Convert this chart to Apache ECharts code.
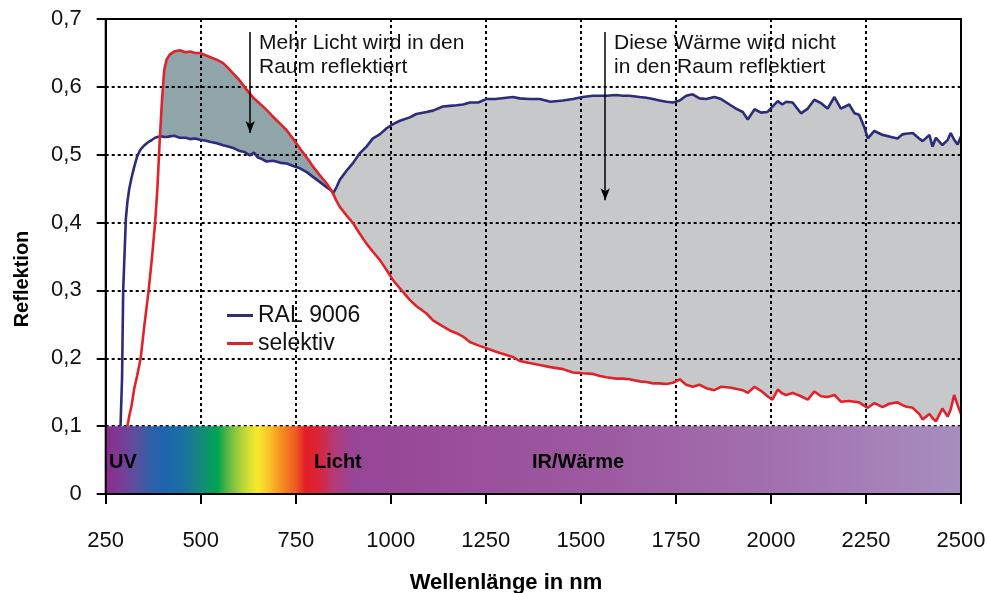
<!DOCTYPE html>
<html>
<head>
<meta charset="utf-8">
<title>Reflektion RAL 9006 / selektiv</title>
<script src="https://cdn.jsdelivr.net/npm/echarts@6/dist/echarts.min.js"></script>
<style>
  html, body { margin: 0; padding: 0; background: #fff; }
  #chart { width: 990px; height: 593px; }
</style>
</head>
<body>
<div id="chart"></div>
<script>
// Wellenlänge in nm (gemeinsames Raster für beide Kurven)
const wellenlaenge = [
  289, 293, 296, 300, 303, 307, 312, 318, 325, 333,
  342, 352, 363, 372, 380, 386, 392, 398, 404, 410,
  419, 430, 445, 460, 472, 485, 498, 511, 524, 542,
  559, 572, 585, 600, 615, 629, 640, 650, 660, 673,
  690, 710, 726, 745, 761, 780, 796, 813, 831, 844,
  848, 857, 866, 883, 901, 918, 936, 953, 971, 989,
  1006, 1024, 1050, 1067, 1094, 1111, 1137, 1155, 1173, 1190,
  1208, 1230, 1251, 1275, 1304, 1321, 1339, 1365, 1392, 1420,
  1453, 1479, 1505, 1532, 1550, 1567, 1593, 1610, 1628, 1655,
  1672, 1690, 1707, 1725, 1742, 1760, 1777, 1794, 1812, 1830,
  1851, 1869, 1891, 1908, 1926, 1939, 1957, 1974, 1991, 2004,
  2018, 2030, 2040, 2057, 2079, 2097, 2114, 2132, 2149, 2167,
  2184, 2206, 2220, 2232, 2246, 2255, 2272, 2294, 2311, 2333,
  2346, 2355, 2373, 2390, 2399, 2417, 2425, 2434, 2451, 2465,
  2473, 2482, 2491, 2500
];

// Reflektion RAL 9006
const ral9006 = [
  0.100, 0.170, 0.300, 0.360, 0.405, 0.430, 0.450, 0.466, 0.482, 0.498,
  0.508, 0.514, 0.519, 0.522, 0.525, 0.526, 0.527, 0.527, 0.526, 0.526,
  0.527, 0.528, 0.525, 0.525, 0.523, 0.524, 0.522, 0.521, 0.519, 0.517,
  0.514, 0.512, 0.510, 0.506, 0.504, 0.499, 0.503, 0.496, 0.494, 0.490,
  0.491, 0.488, 0.487, 0.483, 0.480, 0.474, 0.467, 0.460, 0.452, 0.447,
  0.443, 0.452, 0.463, 0.476, 0.488, 0.502, 0.512, 0.524, 0.530, 0.539,
  0.545, 0.550, 0.555, 0.560, 0.563, 0.565, 0.571, 0.572, 0.573, 0.574,
  0.577, 0.577, 0.582, 0.582, 0.584, 0.585, 0.583, 0.582, 0.582, 0.578,
  0.580, 0.582, 0.585, 0.587, 0.587, 0.587, 0.588, 0.587, 0.587, 0.585,
  0.584, 0.582, 0.580, 0.578, 0.577, 0.580, 0.587, 0.589, 0.583, 0.582,
  0.585, 0.582, 0.574, 0.568, 0.563, 0.552, 0.567, 0.562, 0.563, 0.571,
  0.579, 0.574, 0.578, 0.577, 0.561, 0.568, 0.581, 0.576, 0.568, 0.585,
  0.568, 0.574, 0.561, 0.559, 0.540, 0.524, 0.535, 0.529, 0.527, 0.524,
  0.530, 0.531, 0.532, 0.524, 0.520, 0.529, 0.512, 0.525, 0.514, 0.522,
  0.532, 0.522, 0.515, 0.527
];

// Reflektion selektiv
const selektiv = [
  null, null, null, null, null, 0.100, 0.115, 0.130, 0.155, 0.175,
  0.200, 0.250, 0.300, 0.350, 0.400, 0.450, 0.520, 0.580, 0.625, 0.640,
  0.648, 0.652, 0.654, 0.651, 0.652, 0.650, 0.650, 0.647, 0.644, 0.640,
  0.635, 0.628, 0.620, 0.611, 0.600, 0.590, 0.583, 0.578, 0.573, 0.566,
  0.556, 0.545, 0.536, 0.522, 0.509, 0.495, 0.482, 0.470, 0.458, 0.447,
  0.443, 0.432, 0.423, 0.411, 0.399, 0.384, 0.369, 0.357, 0.345, 0.330,
  0.315, 0.303, 0.286, 0.277, 0.266, 0.256, 0.247, 0.241, 0.237, 0.232,
  0.224, 0.219, 0.215, 0.210, 0.205, 0.202, 0.196, 0.193, 0.190, 0.187,
  0.184, 0.179, 0.178, 0.177, 0.174, 0.172, 0.170, 0.170, 0.169, 0.166,
  0.165, 0.163, 0.163, 0.162, 0.164, 0.169, 0.161, 0.158, 0.161, 0.156,
  0.153, 0.158, 0.157, 0.155, 0.153, 0.149, 0.158, 0.152, 0.144, 0.139,
  0.154, 0.148, 0.146, 0.149, 0.144, 0.139, 0.151, 0.144, 0.143, 0.146,
  0.136, 0.137, 0.136, 0.135, 0.130, 0.127, 0.134, 0.128, 0.133, 0.135,
  0.131, 0.129, 0.127, 0.118, 0.110, 0.118, 0.112, 0.107, 0.126, 0.114,
  0.125, 0.146, 0.131, 0.118
];

const yTickLabels = ['0', '0,1', '0,2', '0,3', '0,4', '0,5', '0,6', '0,7'];

// Bereiche der Füllflächen (Schnittpunkte der Kurven)
const lichtBereich = [386, 848];
const waermeBereich = [844, 2500];

// Farbverlauf des Spektrums [nm, Farbe]
const spektrum = [
  [250, '#8c2a8e'], [285, '#7d3a93'], [330, '#5a4f9f'], [370, '#2f5fa9'],
  [400, '#1f64ae'], [450, '#1b6ea4'], [500, '#148a7a'], [545, '#00a651'],
  [560, '#3aae48'], [590, '#8dc63f'], [625, '#d3de33'], [650, '#f8ea2c'],
  [680, '#f9c22a'], [710, '#f6921e'], [750, '#ef5a24'], [775, '#e31e26'],
  [810, '#d9243a'], [850, '#b43a76'], [900, '#974596'], [1500, '#9c58a0'],
  [2000, '#a270ae'], [2500, '#a78ebf']
];

const font = '"Liberation Sans", Arial, sans-serif';

const idx = wellenlaenge.map((x, i) => i).filter(i => ral9006[i] != null && selektiv[i] != null);

function polygon(bereich, oben, unten) {
  const sel = idx.filter(i => wellenlaenge[i] >= bereich[0] && wellenlaenge[i] <= bereich[1]);
  const top = sel.map(i => [wellenlaenge[i], oben(i)]);
  const bottom = sel.slice().reverse().map(i => [wellenlaenge[i], unten(i)]);
  return top.concat(bottom);
}

const lichtFlaeche = polygon(lichtBereich, i => Math.max(ral9006[i], selektiv[i]), i => ral9006[i]);
const waermeFlaeche = polygon(waermeBereich, i => ral9006[i], i => Math.min(ral9006[i], selektiv[i]));

function flaeche(punkte, farbe) {
  return {
    type: 'custom',
    z: 1,
    silent: true,
    data: [0],
    renderItem: (params, api) => ({
      type: 'polygon',
      shape: { points: punkte.map(p => api.coord(p)) },
      style: { fill: farbe }
    })
  };
}

const myChart = echarts.init(document.getElementById('chart'));

const gridLine = { show: true, lineStyle: { color: '#000', width: 2, type: [3, 3] } };

myChart.setOption({
  animation: false,
  textStyle: { fontFamily: font },
  grid: {
    show: true, z: 10, left: 105.7, right: 29, top: 19, bottom: 99,
    backgroundColor: 'rgba(0,0,0,0)', borderColor: '#000', borderWidth: 2
  },
  legend: {
    orient: 'vertical', left: 222, top: 299, itemWidth: 26, itemHeight: 3, itemGap: 5,
    icon: 'rect', selectedMode: false,
    textStyle: { fontSize: 23, fontFamily: font, color: '#111' },
    data: ['RAL 9006', 'selektiv']
  },
  xAxis: {
    type: 'value', min: 250, max: 2500, interval: 250, z: 2,
    axisLine: { show: true, lineStyle: { color: '#000', width: 2 } },
    axisTick: { show: true, length: 10, lineStyle: { color: '#000', width: 2 } },
    axisLabel: { margin: 36, fontSize: 22, fontFamily: font, color: '#111', formatter: v => String(v) },
    splitLine: gridLine
  },
  yAxis: {
    type: 'value', min: 0, max: 0.7, interval: 0.1, z: 2,
    axisLine: { show: true, lineStyle: { color: '#000', width: 2 } },
    axisTick: { show: true, length: 9, lineStyle: { color: '#000', width: 2 } },
    axisLabel: {
      margin: 24, fontSize: 22, fontFamily: font, color: '#111',
      formatter: v => yTickLabels[Math.round(v * 10)]
    },
    splitLine: gridLine
  },
  graphic: [
    { type: 'text', x: 22, y: 279, rotation: Math.PI / 2, z: 20,
      style: { text: 'Reflektion', font: 'bold 20px ' + font, fill: '#000', align: 'center', verticalAlign: 'middle' } },
    { type: 'text', x: 506, y: 583, z: 20,
      style: { text: 'Wellenlänge in nm', font: 'bold 22px ' + font, fill: '#000', align: 'center', verticalAlign: 'middle' } },
    { type: 'text', x: 259, y: 31.5, z: 20,
      style: { text: 'Mehr Licht wird in den\nRaum reflektiert', font: '21px ' + font, lineHeight: 23.5, fill: '#111' } },
    { type: 'text', x: 614, y: 31.5, z: 20,
      style: { text: 'Diese Wärme wird nicht\nin den Raum reflektiert', font: '21px ' + font, lineHeight: 23.5, fill: '#111' } },
    { type: 'text', x: 109, y: 462, z: 20,
      style: { text: 'UV', font: 'bold 20px ' + font, fill: '#000', verticalAlign: 'middle' } },
    { type: 'text', x: 314, y: 462, z: 20,
      style: { text: 'Licht', font: 'bold 20px ' + font, fill: '#000', verticalAlign: 'middle' } },
    { type: 'text', x: 532, y: 462, z: 20,
      style: { text: 'IR/Wärme', font: 'bold 20px ' + font, fill: '#000', verticalAlign: 'middle' } }
  ],
  series: [
    flaeche(lichtFlaeche, '#8fa5a9'),
    flaeche(waermeFlaeche, '#c7c8ca'),
    {
      name: 'RAL 9006',
      type: 'line',
      z: 4,
      symbol: 'none',
      color: '#2c2c7a',
      lineStyle: { width: 2.6, color: '#2c2c7a' },
      data: wellenlaenge.map((x, i) => [x, ral9006[i]]),
      markArea: {
        z: 3,
        silent: true,
        label: { show: false },
        emphasis: { disabled: true },
        itemStyle: {
          color: new echarts.graphic.LinearGradient(0, 0, 1, 0,
            spektrum.map(s => ({ offset: (s[0] - 250) / 2250, color: s[1] })))
        },
        data: [[{ coord: [250, 0] }, { coord: [2500, 0.1] }]]
      }
    },
    {
      name: 'selektiv',
      type: 'line',
      z: 4,
      symbol: 'none',
      color: '#e2222a',
      lineStyle: { width: 2.6, color: '#e2222a' },
      data: wellenlaenge.map((x, i) => [x, selektiv[i] == null ? '-' : selektiv[i]]),
      markLine: {
        silent: true,
        symbol: ['none', 'arrow'],
        symbolSize: [7, 12],
        label: { show: false },
        emphasis: { disabled: true },
        lineStyle: { color: '#000', width: 1.5, type: 'solid' },
        data: [
          [{ coord: [630, 0.681] }, { coord: [630, 0.532] }],
          [{ coord: [1564, 0.681] }, { coord: [1564, 0.433] }]
        ]
      }
    }
  ]
});
</script>
</body>
</html>
